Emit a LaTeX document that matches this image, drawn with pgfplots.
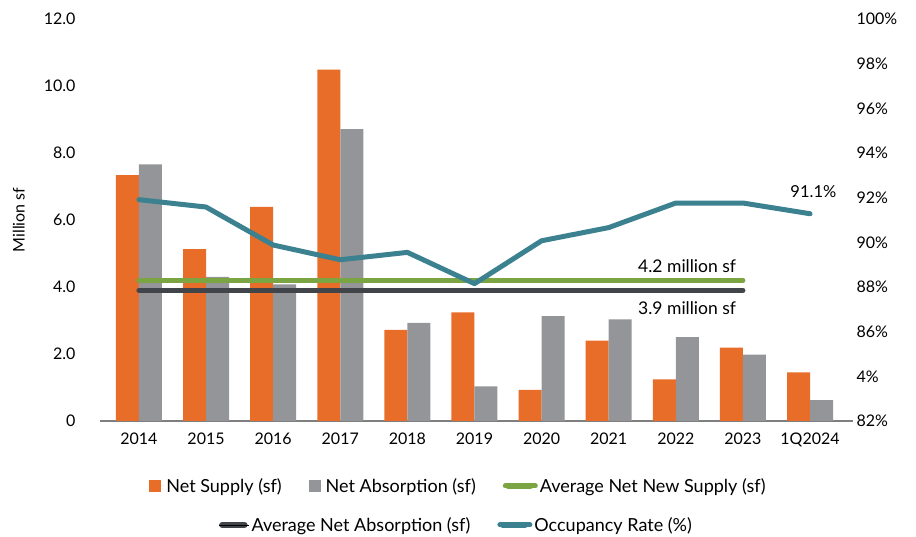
\documentclass[border=0pt]{standalone}
\usepackage{pgfplots}
\pgfplotsset{compat=1.18}
\usepackage{fontspec}
\setmainfont{Lato}

\definecolor{supply}{HTML}{E86D29}
\definecolor{absorb}{HTML}{939598}
\definecolor{avgsup}{HTML}{7BA443}
\definecolor{avgabs}{HTML}{414549}
\definecolor{occ}{HTML}{3C8190}
\definecolor{axisgray}{HTML}{7F7F7F}

\pgfplotsset{
  sqlegend/.style={legend image code/.code={\fill[#1] (0pt,-6pt) rectangle (12pt,6pt);
      \path (0pt,0pt) -- (15pt,0pt);}},
  linelegend/.style={legend image code/.code={\draw[#1, line width=6.5pt, line cap=round] (3pt,0pt) -- (25pt,0pt);
      \path (0pt,0pt) -- (30pt,0pt);}},
  common/.style={
    at={(100pt,116pt)}, anchor=south west,
    scale only axis, width=753pt, height=402pt,
    xmin=-0.58, xmax=10.64,
    tick label style={font=\fontsize{16}{19}\selectfont},
    major tick length=0pt,
    legend cell align=left,
  },
}

\begin{document}
\begin{tikzpicture}
\useasboundingbox (0,0) rectangle (916pt,537pt);

% bars and averages, left axis (million sf)
\begin{axis}[common,
    ymin=0, ymax=12,
    axis x line*=bottom, axis y line*=left,
    x axis line style={draw=axisgray, line width=1.5pt},
    y axis line style={draw=none},
    xtick={0,...,10},
    xticklabels={2014,2015,2016,2017,2018,2019,2020,2021,2022,2023,1Q2024},
    xticklabel style={yshift=-8pt},
    ytick={0,2,4,6,8,10,12},
    yticklabels={0,2.0,4.0,6.0,8.0,10.0,12.0},
    yticklabel style={xshift=-21pt},
    ylabel={Million sf},
    ylabel style={at={(rel axis cs:-0.108,0.5)}, anchor=center, font=\fontsize{16}{19}\selectfont},
    legend columns=3,
    legend style={draw=none, fill=none, at={(0.476,-0.1617)}, anchor=center,
      font=\fontsize{18}{21}\selectfont,
      /tikz/every even column/.append style={column sep=25pt}},
]
\addplot[ybar, bar width=23pt, bar shift=-11.5pt, fill=supply, draw=none, sqlegend=supply]
  coordinates {(0,7.34) (1,5.13) (2,6.39) (3,10.49) (4,2.72) (5,3.24) (6,0.93) (7,2.40) (8,1.24) (9,2.19) (10,1.45)};
\addlegendentry{Net Supply (sf)}
\addplot[ybar, bar width=23pt, bar shift=11.5pt, fill=absorb, draw=none, sqlegend=absorb]
  coordinates {(0,7.66) (1,4.30) (2,4.08) (3,8.71) (4,2.93) (5,1.03) (6,3.13) (7,3.03) (8,2.50) (9,1.98) (10,0.62)};
\addlegendentry{Net Absorption (sf)}
\addplot[avgsup, line width=5pt, line cap=round, linelegend=avgsup]
  coordinates {(0,4.2) (9,4.2)};
\addlegendentry{Average Net New Supply (sf)}
\addplot[avgabs, line width=5pt, line cap=round, forget plot]
  coordinates {(0,3.9) (9,3.9)};
\node[anchor=east, font=\fontsize{17.5}{20}\selectfont] at (axis cs:8.95,4.63) {4.2 million sf};
\node[anchor=east, font=\fontsize{17.5}{20}\selectfont] at (axis cs:8.95,3.37) {3.9 million sf};
\end{axis}

% occupancy, right axis
\begin{axis}[common,
    ymin=82, ymax=100,
    axis x line=none, axis y line*=right,
    y axis line style={draw=none},
    ytick={82,84,86,88,90,92,94,96,98,100},
    yticklabels={82\%,4\%,86\%,88\%,90\%,92\%,94\%,96\%,98\%,100\%},
    legend columns=2,
    legend style={draw=none, fill=none, at={(0.4734,-0.2587)}, anchor=center,
      font=\fontsize{18}{21}\selectfont,
      /tikz/every even column/.append style={column sep=25pt}},
]
\addlegendimage{linelegend=avgabs}
\addlegendentry{Average Net Absorption (sf)}
\addplot[occ, line width=5pt, line cap=round, line join=round, linelegend=occ]
  coordinates {(0,91.91) (1,91.58) (2,89.88) (3,89.22) (4,89.55) (5,88.15) (6,90.07) (7,90.66) (8,91.76) (9,91.76) (10,91.28)};
\addlegendentry{Occupancy Rate (\%)}
\node[font=\fontsize{16.5}{19}\selectfont] at (axis cs:10.05,92.25) {91.1\%};
\end{axis}
\end{tikzpicture}
\end{document}
